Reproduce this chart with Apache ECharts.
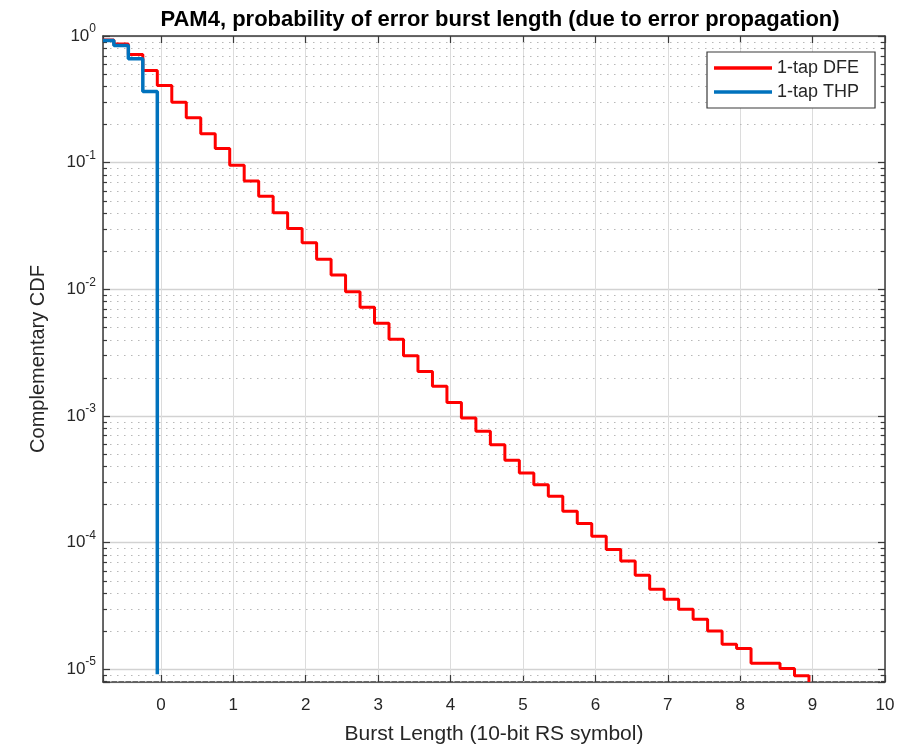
<!DOCTYPE html>
<html><head><meta charset="utf-8">
<script src="https://cdn.jsdelivr.net/npm/echarts@6/dist/echarts.min.js"></script>
<style>html,body{margin:0;padding:0;background:#fff;} #c{width:908px;height:750px;}</style>
</head><body><div id="c"></div>
<script>
// ---- data ----
const dfeX = [-0.8, -0.65, -0.45, -0.25, -0.05, 0.15, 0.35, 0.55, 0.75, 0.95,
  1.15, 1.35, 1.55, 1.75, 1.95, 2.15, 2.35, 2.55, 2.75, 2.95,
  3.15, 3.35, 3.55, 3.75, 3.95, 4.15, 4.35, 4.55, 4.75, 4.95,
  5.15, 5.35, 5.55, 5.75, 5.95, 6.15, 6.35, 6.55, 6.75, 6.95,
  7.15, 7.35, 7.55, 7.75, 7.95, 8.15, 8.35, 8.55, 8.75, 8.95];
const dfeY = [0.93, 0.866, 0.713, 0.534, 0.406, 0.300, 0.226, 0.169, 0.129, 0.0952,
  0.0716, 0.0543, 0.0401, 0.0302, 0.02325, 0.01722, 0.01294, 0.00956, 0.00720, 0.00538,
  0.00403, 0.00298, 0.00224, 0.00171, 0.001276, 0.000961, 0.000754, 0.000592, 0.000445, 0.000354,
  0.000286, 0.000232, 0.000176, 0.000141, 0.000112, 8.81e-5, 7.13e-5, 5.50e-5, 4.26e-5, 3.56e-5,
  2.97e-5, 2.47e-5, 2.00e-5, 1.57e-5, 1.45e-5, 1.11e-5, 1.11e-5, 1.01e-5, 8.84e-6, 7.9e-6];
const thpX = [-0.8, -0.65, -0.45, -0.25, -0.05];
const thpY = [0.92, 0.840, 0.660, 0.365, 9.1e-6];
const seriesNames = ['1-tap DFE', '1-tap THP'];
const xTickLabels = [0, 1, 2, 3, 4, 5, 6, 7, 8, 9, 10];
const yMin = 7.9e-6, yMax = 1;
const xMin = -0.8, xMax = 10;
const minorMantissas = [2, 3, 4, 5, 6, 7, 8, 9];
const minorExponents = [-6, -5, -4, -3, -2, -1];

const minorY = [];
minorExponents.forEach(e => minorMantissas.forEach(m => {
  const v = m * Math.pow(10, e);
  if (v > yMin && v < yMax) minorY.push(v);
}));

const FONT = "'Liberation Sans', Arial, Helvetica, sans-serif";
const TXT = '#262626';
const AX = '#3a3a3a';
const RED = '#ff0000', BLUE = '#0072bd';

const chart = echarts.init(document.getElementById('c'), null, {renderer: 'canvas'});

function yFmt(v) {
  const l = Math.log10(v);
  const e = Math.round(l);
  if (Math.abs(l - e) > 1e-6) return '';
  return '{b|10}{s|' + e + '}';
}
function xFmt(v) {
  const r = Math.round(v);
  if (Math.abs(v - r) > 1e-6 || xTickLabels.indexOf(r) < 0) return '';
  return String(r);
}

const option = {
  animation: false,
  backgroundColor: '#fff',
  textStyle: {fontFamily: FONT},
  title: {
    text: 'PAM4, probability of error burst length (due to error propagation)',
    left: 495, top: 4, textAlign: 'center',
    textStyle: {fontFamily: FONT, fontSize: 22, fontWeight: 'bold', color: '#000'}
  },
  legend: {
    data: [
      {name: seriesNames[0], icon: 'rect', itemStyle: {color: RED}},
      {name: seriesNames[1], icon: 'rect', itemStyle: {color: BLUE}}
    ],
    orient: 'vertical',
    left: 707, top: 52,
    padding: [7, 16, 7, 7],
    itemWidth: 58, itemHeight: 3.5, itemGap: 6,
    backgroundColor: '#fff',
    borderColor: AX, borderWidth: 1.2, borderRadius: 0,
    textStyle: {fontFamily: FONT, fontSize: 18, color: TXT, lineHeight: 18},
    selectedMode: false
  },
  grid: {left: 103, right: 23, top: 36, bottom: 67, containLabel: false},
  xAxis: [{
    type: 'value', min: xMin, max: xMax, splitNumber: 10,
    name: 'Burst Length (10-bit RS symbol)', nameLocation: 'middle', nameGap: 42,
    nameTextStyle: {fontFamily: FONT, fontSize: 21, color: TXT},
    axisLine: {show: true, onZero: false, lineStyle: {color: AX, width: 1.5}},
    axisTick: {show: true, inside: true, length: 7, lineStyle: {color: AX, width: 1.2}},
    axisLabel: {show: true, margin: 15, fontFamily: FONT, fontSize: 17, color: TXT, formatter: xFmt,
      showMinLabel: true, showMaxLabel: true},
    splitLine: {show: true, lineStyle: {color: '#dcdcdc', width: 1}},
    minorTick: {show: false}
  }, {
    type: 'value', min: xMin, max: xMax, splitNumber: 10, position: 'top',
    axisLine: {show: true, onZero: false, lineStyle: {color: AX, width: 1.5}},
    axisTick: {show: true, inside: true, length: 7, lineStyle: {color: AX, width: 1.2}},
    axisLabel: {show: false}, splitLine: {show: false}
  }],
  yAxis: [{
    type: 'log', logBase: 10, min: yMin, max: yMax,
    name: 'Complementary CDF', nameLocation: 'middle', nameGap: 55, nameRotate: 90,
    nameTextStyle: {fontFamily: FONT, fontSize: 20, color: TXT},
    axisLine: {show: true, onZero: false, lineStyle: {color: AX, width: 1.5}},
    axisTick: {show: true, inside: true, length: 7, lineStyle: {color: AX, width: 1.2}},
    axisLabel: {show: true, margin: 7, formatter: yFmt, color: TXT,
      rich: {
        b: {fontFamily: FONT, fontSize: 17, color: TXT, lineHeight: 26},
        s: {fontFamily: FONT, fontSize: 12, color: TXT, lineHeight: 12, verticalAlign: 'top'}
      }},
    splitLine: {show: true, lineStyle: {color: '#d2d2d2', width: 1.3}}
  }, {
    type: 'log', logBase: 10, min: yMin, max: yMax, position: 'right',
    axisLine: {show: true, onZero: false, lineStyle: {color: AX, width: 1.5}},
    axisTick: {show: true, inside: true, length: 7, lineStyle: {color: AX, width: 1.2}},
    axisLabel: {show: false}, splitLine: {show: false}
  }],
  series: [{
    type: 'custom',
    silent: true,
    xAxisIndex: 0, yAxisIndex: 0,
    z: 1,
    clip: true,
    data: minorY.map(v => [xMin, v]),
    renderItem: function (params, api) {
      const cs = params.coordSys;
      const p = api.coord([xMin, api.value(1)]);
      const y = Math.round(p[1]) + 0.5;
      return {
        type: 'group',
        children: [
          {type: 'line', shape: {x1: cs.x, y1: y, x2: cs.x + cs.width, y2: y},
            style: {stroke: '#b8b8b8', lineWidth: 1.2, lineDash: [1.5, 5.5]}},
          {type: 'line', shape: {x1: cs.x, y1: y, x2: cs.x + 4, y2: y},
            style: {stroke: AX, lineWidth: 1.2}},
          {type: 'line', shape: {x1: cs.x + cs.width - 4, y1: y, x2: cs.x + cs.width, y2: y},
            style: {stroke: AX, lineWidth: 1.2}}
        ]
      };
    }
  }, {
    name: seriesNames[0], type: 'line', step: 'end',
    xAxisIndex: 0, yAxisIndex: 0,
    data: dfeX.map((x, i) => [x, dfeY[i]]),
    symbol: 'none', showSymbol: false,
    lineStyle: {color: RED, width: 3},
    itemStyle: {color: RED},
    z: 4, clip: true
  }, {
    name: seriesNames[1], type: 'line', step: 'end',
    xAxisIndex: 0, yAxisIndex: 0,
    data: thpX.map((x, i) => [x, thpY[i]]),
    symbol: 'none', showSymbol: false,
    lineStyle: {color: BLUE, width: 3.5},
    itemStyle: {color: BLUE},
    z: 5, clip: true
  }]
};
chart.setOption(option);
</script>
</body></html>
